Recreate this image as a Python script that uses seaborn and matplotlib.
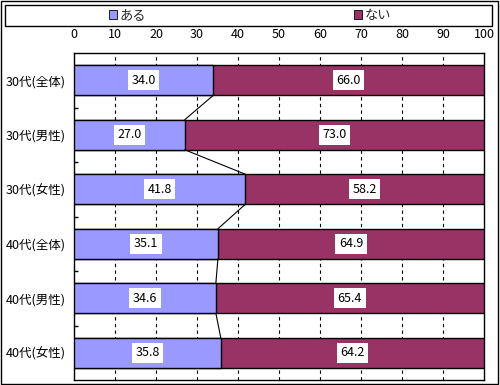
import numpy as np
import pandas as pd
import matplotlib
matplotlib.use("Agg")
import matplotlib.pyplot as plt
from matplotlib.patches import Rectangle, Patch
import seaborn as sns

# ── data ──────────────────────────────────────────────────────────────
categories = ["30代(全体)", "30代(男性)", "30代(女性)",
              "40代(全体)", "40代(男性)", "40代(女性)"]
aru = [34.0, 27.0, 41.8, 35.1, 34.6, 35.8]
nai = [66.0, 73.0, 58.2, 64.9, 65.4, 64.2]
series_names = ["ある", "ない"]
x_ticks = list(range(0, 101, 10))

C_ARU = "#9999FF"
C_NAI = "#993366"
BAR_W = 0.55

sns.set_theme(style="white")
plt.rcParams["font.family"] = ["Noto Sans CJK JP", "DejaVu Sans"]

df = pd.DataFrame({"cat": categories, "aru": aru, "nai": nai})
df["total"] = df["aru"] + df["nai"]

fig = plt.figure(figsize=(5.0, 3.85), dpi=100)
ax = fig.add_axes([74 / 500, 1 - 380 / 385, 410 / 500, 327 / 385])

# stacked: full bar in ない colour, ある on top of it
sns.barplot(data=df, x="total", y="cat", color=C_NAI, width=BAR_W,
            edgecolor="black", linewidth=1, saturation=1, ax=ax, zorder=3)
sns.barplot(data=df, x="aru", y="cat", color=C_ARU, width=BAR_W,
            edgecolor="black", linewidth=1, saturation=1, ax=ax, zorder=4)

# series lines between bars
for i in range(len(categories) - 1):
    ax.plot([aru[i], aru[i + 1]], [i + BAR_W / 2, i + 1 - BAR_W / 2],
            color="black", lw=0.8, zorder=5)

# value labels
for i in range(len(categories)):
    for xc, v in [(aru[i] / 2, aru[i]), (aru[i] + nai[i] / 2, nai[i])]:
        ax.text(xc, i, f"{v:.1f}", ha="center", va="center", fontsize=9,
                color="black", zorder=6,
                bbox=dict(facecolor="white", edgecolor="none", pad=2.5))

ax.set_xlim(0, 100)
ax.set_ylim(len(categories) - 0.5, -0.5)
ax.set_xticks(x_ticks)
ax.xaxis.tick_top()
ax.tick_params(axis="x", length=0, pad=9, labelsize=9, colors="black")
ax.tick_params(axis="y", length=0, pad=6, labelsize=9, colors="black")
ax.set_yticks(np.arange(0.5, len(categories) - 0.5, 1), minor=True)
ax.tick_params(axis="y", which="minor", direction="in", length=3,
               width=1, color="black", left=True)
ax.set_xlabel("")
ax.set_ylabel("")

for xv in x_ticks[1:-1]:
    ax.axvline(xv, color="black", lw=0.8, ls=(0, (3, 3)), zorder=1)

for s in ax.spines.values():
    s.set_visible(True)
    s.set_color("black")
    s.set_linewidth(1)

# legend box
fig.patches.append(Rectangle((5 / 500, 1 - 26 / 385), 487 / 500, 21 / 385,
                             transform=fig.transFigure, fill=False,
                             edgecolor="black", lw=1))
handles = [Patch(facecolor=C_ARU, edgecolor="black", lw=0.6),
           Patch(facecolor=C_NAI, edgecolor="black", lw=0.6)]
fig.legend(handles, series_names, loc="center", ncol=2,
           bbox_to_anchor=(250 / 500, 1 - 15.5 / 385), frameon=False,
           fontsize=9.5, handlelength=0.6, handleheight=0.6,
           handletextpad=0.2, columnspacing=15.8, borderpad=0)

# outer border
fig.patches.append(Rectangle((0.5 / 500, 1.5 / 385), 497.5 / 500, 383 / 385,
                             transform=fig.transFigure, fill=False,
                             edgecolor="black", lw=1))

fig.savefig("out.png", dpi=100)
